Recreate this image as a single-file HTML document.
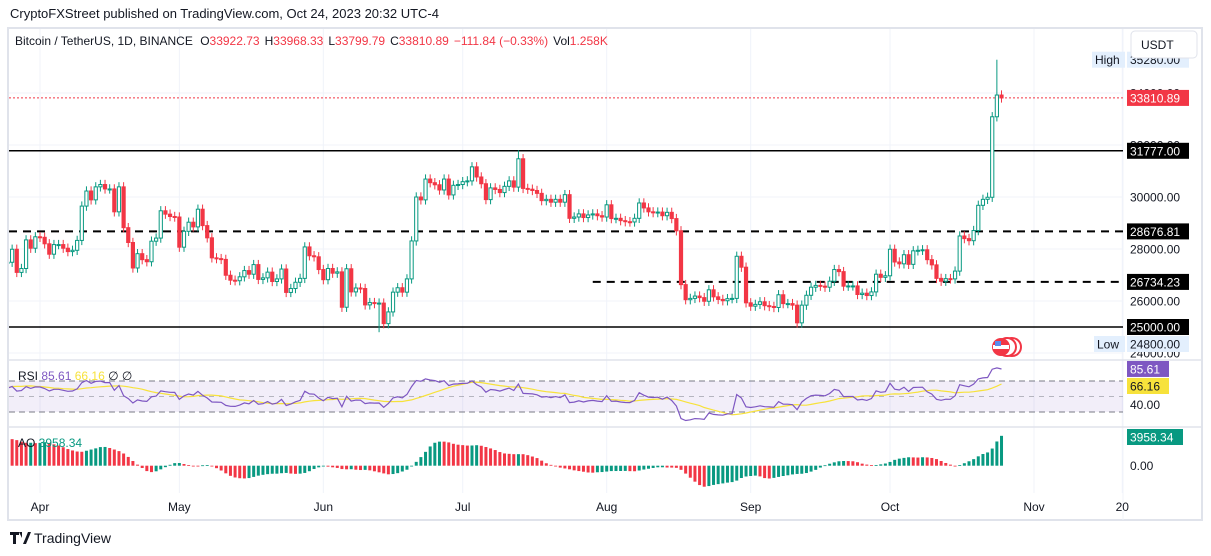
<!DOCTYPE html>
<html><head><meta charset="utf-8"><style>
html,body{margin:0;padding:0;background:#fff;width:1211px;height:556px;overflow:hidden;font-family:"Liberation Sans",sans-serif}
svg text{font-family:"Liberation Sans",sans-serif}
</style></head><body>
<svg id="c" width="1211" height="556" xmlns="http://www.w3.org/2000/svg">
<defs>
<clipPath id="cm"><rect x="9" y="29" width="1114" height="330"/></clipPath>
<clipPath id="cr"><rect x="9" y="361" width="1114" height="65"/></clipPath>
<clipPath id="ca"><rect x="9" y="428" width="1114" height="64"/></clipPath>
</defs>
<text x="10" y="18" font-size="13" fill="#131722">CryptoFXStreet published on TradingView.com, Oct 24, 2023 20:32 UTC-4</text>
<rect x="8" y="28" width="1194" height="492" fill="#fff" stroke="#e0e3eb" stroke-width="2"/>
<g id="grid"></g>
<g id="main" clip-path="url(#cm)"></g>
<g id="rsi" clip-path="url(#cr)"></g>
<g id="ao" clip-path="url(#ca)"></g>
<g id="axis"></g>
<line x1="9" y1="360" x2="1201" y2="360" stroke="#e0e3eb" stroke-width="1.5"/>
<line x1="9" y1="427" x2="1201" y2="427" stroke="#e0e3eb" stroke-width="1.5"/>
<text x="15" y="45" font-size="12" fill="#131722">Bitcoin / TetherUS, 1D, BINANCE <tspan dx="4">O</tspan><tspan fill="#f23645">33922.73</tspan><tspan dx="5">H</tspan><tspan fill="#f23645">33968.33</tspan><tspan dx="5">L</tspan><tspan fill="#f23645">33799.79</tspan><tspan dx="5">C</tspan><tspan fill="#f23645">33810.89</tspan><tspan dx="5" fill="#f23645">−111.84 (−0.33%)</tspan><tspan dx="5">Vol</tspan><tspan fill="#f23645">1.258K</tspan></text>
<g><rect x="1131" y="31" width="66" height="27" rx="4" fill="#fff" stroke="#e0e3eb"/><text x="1141" y="49" font-size="12" fill="#131722">USDT</text></g>
<text x="18" y="380" font-size="12" fill="#131722">RSI <tspan fill="#7e57c2">85.61</tspan> <tspan fill="#f7e23b">66.16</tspan> <tspan>∅ ∅</tspan></text>
<text x="18" y="447" font-size="12" fill="#131722">AO <tspan fill="#089981">3958.34</tspan></text>
<g><path d="M10 532h9v3h-3v9h-3v-9h-3z M19 532h3v6z M23 544l5-12h3l-5 12z" fill="#131722"/><text x="34" y="543" font-size="14" fill="#131722">TradingView</text></g>
<g><circle cx="1012" cy="347" r="9" fill="#fff" stroke="#f23645" stroke-width="2"/><circle cx="1007" cy="347" r="9" fill="#fff" stroke="#f23645" stroke-width="2"/><circle cx="1001" cy="347" r="9" fill="#f23645"/><rect x="993" y="345" width="16" height="4" fill="#fff"/><rect x="995" y="341" width="6" height="5" fill="#5b8def"/></g>
</svg>
<script>
// ---- data ----
const startDate = "2023-02-20";
const closes = [24840,24450,24190,23950,23190,23160,23560,23490,23140,23650,23470,22350,22350,22430,22410,22200,21700,20360,20190,20630,22160,24200,24750,24380,25060,27420,26970,28040,27770,28180,27310,28330,27490,27490,27990,
27100,27250,28350,28030,28470,
28450,28200,27800,28170,28170,28030,27900,27950,28330,29650,30230,29890,30390,30480,30310,30310,29430,30390,28820,28250,27270,27820,27590,27510,28300,28420,29470,29340,29250,29230,
28070,28680,29030,28850,29530,28900,28430,27660,27630,27600,26990,26800,26780,26930,27170,27030,27400,26830,26890,27110,26750,26850,27230,26330,26480,26720,26870,28080,27740,27700,27210,
26820,27250,27070,27120,25760,27240,26350,26500,26480,25850,25940,25900,25920,25130,25580,26340,26510,26340,26850,28310,30000,29890,30690,30550,30470,30270,30690,30080,30450,30480,
30590,30620,31160,30770,30510,29900,30350,30290,30170,30410,30620,30380,31470,30330,30300,30250,30140,29860,29910,29800,29910,29800,30090,29180,29230,29350,29210,29310,29350,29280,29230,
29700,29170,29180,29090,29050,29040,29180,29770,29580,29430,29400,29420,29280,29410,29170,28700,26630,26050,26100,26190,26130,25990,26430,26160,26060,26010,26090,26100,27720,27300,25930,
25800,25870,25970,25820,25790,25750,26240,25900,25900,25840,25160,25840,26220,26530,26600,26570,26530,26760,27210,27130,26570,26580,26580,26250,26300,26210,26350,27030,26910,26970,
27990,27500,27430,27780,27410,27930,27950,27970,27590,27390,26870,26760,26860,26850,27150,28500,28400,28320,28710,29680,29910,29990,33086,33922,33810];
const extremeIdx = [143, 113, 246];
const extremeHigh = [31800, null, 35280];
const extremeLow = [null, 24800, null];
const levelPrices = [31777.00, 28676.81, 26734.23, 25000.00];
const levelDash = [false, true, true, false];
const levelStartIdx = [0, 0, 159, 0];
const axisPrices = [34000, 32000, 30000, 28000, 26000, 24000];
const monthLabels = ["Apr","May","Jun","Jul","Aug","Sep","Oct","Nov","20"];
const monthIdx = [40,70,101,131,162,193,223,254,273];
const lastPrice = 33810.89;
const highPrice = 35280.00, lowPrice = 24800.00;

// ---- scales ----
const x = i => 40 + (i - 40) * 4.645;
const y = p => 197 - (p - 30000) * 0.026;
const yR = v => 381 - (v - 70) * 0.775;
const yA = v => 465.7 - v * (30.7 / 3958);
const NS = "http://www.w3.org/2000/svg";
function mk(tag, attrs, parent){const e=document.createElementNS(NS,tag);for(const k in attrs)e.setAttribute(k,attrs[k]);parent.appendChild(e);return e;}
const G = id => document.getElementById(id);

// OHLC
const opens = closes.map((c,i)=> i===0? c : closes[i-1]);
const highs = closes.map((c,i)=> Math.max(c,opens[i]) + 180);
const lows = closes.map((c,i)=> Math.min(c,opens[i]) - 180);
extremeIdx.forEach((k,j)=>{ if(extremeHigh[j]!==null) highs[k]=extremeHigh[j]; if(extremeLow[j]!==null) lows[k]=extremeLow[j]; });

// grid
const grid = G('grid');
axisPrices.forEach(p=>{const l=mk('line',{x1:9,x2:1123,y1:y(p),y2:y(p),stroke:'#f0f3fa'},grid);

});
monthIdx.forEach(i=>{const l=mk('line',{x1:x(i),x2:x(i),y1:29,y2:493,stroke:'#f0f3fa'},grid);

});
mk('line',{x1:1123,x2:1123,y1:29,y2:520,stroke:'#f0f3fa'},grid);

// levels
const main = G('main');
levelPrices.forEach((p,j)=>{
  const l=mk('line',{x1:levelStartIdx[j]===0?9:x(levelStartIdx[j]),x2:1123,y1:y(p),y2:y(p),stroke:'#000','stroke-width':1.5},main);
  if(levelDash[j]) {l.setAttribute('stroke-dasharray','8 6'); l.setAttribute('stroke-width',2);}
  
  
});
const lp=mk('line',{x1:9,x2:1123,y1:y(lastPrice),y2:y(lastPrice),stroke:'#f23645','stroke-dasharray':'2 2'},main);



// candles
closes.forEach((c,i)=>{
  const o=opens[i], up=c>=o, col=up?'#089981':'#f23645', cx=x(i);
  const g=mk('g',{},main);
  
  
  mk('line',{x1:cx,x2:cx,y1:y(highs[i]),y2:y(lows[i]),stroke:col,'stroke-width':1},g);
  const t=y(Math.max(o,c)), b=y(Math.min(o,c));
  mk('rect',{x:cx-1.6,y:t,width:3.2,height:Math.max(1,b-t),fill:up?'#fff':col,stroke:col,'stroke-width':1},g);
});

// RSI
const rsi=[]; let ag=0, al=0;
for(let i=1;i<closes.length;i++){
  const d=closes[i]-closes[i-1], gn=Math.max(d,0), ls=Math.max(-d,0);
  if(i<=14){ag+=gn/14; al+=ls/14; rsi[i]= i===14 ? 100-100/(1+ag/(al||1e-9)) : null;}
  else {ag=(ag*13+gn)/14; al=(al*13+ls)/14; rsi[i]=100-100/(1+ag/(al||1e-9));}
}
const rsiMa=rsi.map((v,i)=>{ if(i<27) return null; let s=0; for(let k=i-13;k<=i;k++) s+=rsi[k]; return s/14;});
const rg=G('rsi');
const band=mk('rect',{x:9,y:yR(70),width:1114,height:yR(30)-yR(70),fill:'rgba(126,87,194,0.1)'},rg);


[70,50,30].forEach(v=>{const l=mk('line',{x1:9,x2:1123,y1:yR(v),y2:yR(v),stroke:'#787b86','stroke-dasharray':v===50?'5 5':'6 4','stroke-opacity':v===50?0.5:1},rg);

});
const path=(arr,fy)=>{let d='';arr.forEach((v,i)=>{if(v==null)return;d+=(d?'L':'M')+x(i).toFixed(1)+' '+fy(v).toFixed(1);});return d;};
const rm=mk('path',{d:path(rsiMa,yR),fill:'none',stroke:'#f7e23b','stroke-width':1.2},rg);


const rl=mk('path',{d:path(rsi,yR),fill:'none',stroke:'#7e57c2','stroke-width':1.2},rg);



// AO
const med=closes.map((c,i)=>(highs[i]+lows[i])/2);
const sma=(n,i)=>{let s=0;for(let k=i-n+1;k<=i;k++)s+=med[k];return s/n;};
const ao=med.map((m,i)=> i<33?null: sma(5,i)-sma(34,i));
const ag2=G('ao');
ao.forEach((v,i)=>{ if(v==null) return;
  const inc = i>0 && ao[i-1]!=null ? v>=ao[i-1] : true;
  const t=Math.min(yA(v),yA(0)), h=Math.abs(yA(v)-yA(0));
  const r=mk('rect',{x:x(i)-1.5,y:t,width:3,height:Math.max(h,0.8),fill:inc?'#089981':'#f23645'},ag2);
  
  
});

// axis labels
const ax=G('axis');
function lbl(txt,yy,bg,fg,nm,xx,w){
  const g=mk('g',{},ax);
  
  
  if(bg) mk('rect',{x:xx||1127,y:yy-8,width:w||62,height:16,fill:bg},g);
  const t=mk('text',{x:(xx||1127)+3,y:yy+4.5,'font-size':12,fill:fg},g); t.textContent=txt;
}
axisPrices.forEach(p=>lbl(p.toFixed(2),y(p),'#fff','#131722','price-axis-label'));
levelPrices.forEach(p=>lbl(p.toFixed(2),y(p),'#000','#fff','level-price-label'));
lbl(lastPrice.toFixed(2),y(lastPrice),'#f23645','#fff','last-price-label');
lbl('High',y(highPrice),'#e3effd','#131722','high-tag',1092,33);
lbl(highPrice.toFixed(2),y(highPrice),'#e3effd','#131722','high-price-label');
lbl('Low',344,'#e3effd','#131722','low-tag',1094,31);
lbl(lowPrice.toFixed(2),344,'#e3effd','#131722','low-price-label');
lbl('40.00',yR(40),'#fff','#131722','rsi-axis-label');
lbl('66.16',386,'#f7e23b','#131722','rsi-ma-value-label',1127,42);
lbl('85.61',yR(rsi[rsi.length-1]),'#7e57c2','#fff','rsi-value-label',1127,42);
lbl('3958.34',437,'#089981','#fff','ao-value-label',1127,56);
lbl('0.00',yA(0),'#fff','#131722','ao-axis-label');
monthLabels.forEach((m,j)=>{const t=mk('text',{x:x(monthIdx[j]),y:511,'font-size':12,'text-anchor':'middle',fill:'#131722'},ax);t.textContent=m;

});
</script>
</body></html>
